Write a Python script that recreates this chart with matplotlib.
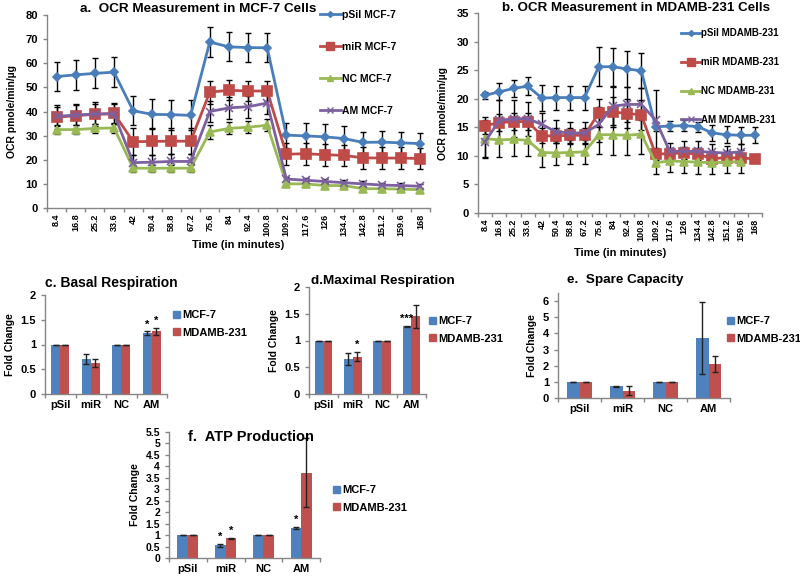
import numpy as np
import matplotlib
matplotlib.use("Agg")
import matplotlib.pyplot as plt
from matplotlib.lines import Line2D
from matplotlib.patches import Patch

plt.rcParams['font.family'] = ['Liberation Sans', 'DejaVu Sans']
plt.rcParams['font.weight'] = 'bold'

# ---------------- data ----------------
times = ["8.4", "16.8", "25.2", "33.6", "42", "50.4", "58.8", "67.2", "75.6", "84",
         "92.4", "100.8", "109.2", "117.6", "126", "134.4", "142.8", "151.2", "159.6", "168"]

a_psil = [54.5, 55.2, 55.8, 56.3, 40.3, 38.8, 38.7, 38.4, 68.8, 66.8, 66.5, 66.4,
          30.2, 29.9, 29.5, 28.8, 27.2, 27.3, 27.0, 26.7]
a_psil_err = [6.2, 6.2, 6.2, 6.2, 6.0, 6.2, 6.2, 6.2, 6.2, 6.0, 6.0, 6.0,
              5.2, 5.3, 5.3, 5.3, 4.3, 4.5, 4.5, 4.5]
a_mir = [37.6, 38.3, 38.8, 39.2, 27.5, 27.6, 27.7, 27.7, 48.0, 48.8, 48.5, 48.5,
         22.3, 22.5, 22.1, 21.8, 20.8, 20.7, 20.7, 20.5]
a_mir_err = [5.0, 5.0, 5.0, 4.5, 5.7, 5.5, 5.5, 5.5, 4.8, 4.2, 4.2, 4.2,
             4.5, 4.5, 4.5, 4.5, 4.5, 4.5, 4.5, 4.5]
a_nc = [32.5, 32.5, 33.0, 33.2, 16.5, 16.5, 16.5, 16.5, 31.5, 33.0, 33.5, 34.3,
        10.0, 10.0, 9.3, 9.3, 8.0, 8.0, 7.8, 7.6]
a_nc_err = [2.0, 2.0, 2.0, 2.0, 1.5, 1.5, 1.5, 1.5, 2.8, 2.5, 2.5, 2.5,
            1.0, 1.0, 1.0, 1.0, 0.8, 0.8, 0.8, 0.8]
a_am = [38.0, 38.5, 39.0, 39.0, 18.8, 19.0, 19.3, 19.3, 40.0, 41.5, 42.0, 43.5,
        12.0, 11.5, 11.0, 10.5, 10.0, 9.5, 9.3, 9.0]
a_am_err = [4.0, 4.0, 4.0, 4.0, 3.0, 3.0, 3.0, 3.0, 4.5, 4.5, 4.5, 4.5,
            1.0, 1.0, 1.0, 1.0, 1.0, 1.0, 1.0, 1.0]

b_psil = [20.6, 21.2, 21.8, 22.2, 20.1, 20.2, 20.2, 20.2, 25.6, 25.6, 25.2, 24.9,
          15.1, 15.2, 15.3, 15.1, 14.0, 13.7, 13.6, 13.6]
b_psil_err = [0.6, 1.5, 1.5, 1.6, 2.3, 2.1, 2.1, 2.1, 3.4, 3.3, 3.2, 3.1,
              0.8, 0.9, 0.9, 0.9, 1.4, 1.5, 1.5, 1.4]
b_mir = [15.3, 15.8, 16.0, 16.0, 13.5, 13.5, 13.6, 13.6, 17.5, 17.7, 17.4, 17.2,
         10.3, 10.4, 10.5, 10.3, 9.5, 9.7, 9.6, 9.5]
b_mir_err = [1.5, 1.5, 1.5, 1.5, 1.3, 1.3, 1.3, 1.3, 2.5, 2.6, 2.6, 2.6,
             1.0, 1.0, 1.0, 1.0, 0.6, 0.6, 0.6, 0.6]
b_nc = [13.0, 12.8, 12.9, 12.7, 10.6, 10.5, 10.6, 10.7, 13.7, 13.7, 13.6, 13.8,
        8.8, 9.1, 9.0, 8.9, 8.8, 8.9, 9.0, np.nan]
b_nc_err = [3.2, 3.0, 3.0, 2.8, 2.5, 2.1, 2.1, 2.1, 3.4, 3.5, 3.5, 3.4,
            2.0, 1.9, 2.0, 2.0, 2.0, 1.9, 2.0, np.nan]
b_am = [12.5, 16.2, 16.5, 16.5, 15.5, 14.2, 14.0, 14.0, 15.5, 18.7, 19.0, 19.0,
        16.3, 10.8, 10.8, 10.8, 10.6, 10.5, 10.7, np.nan]
b_am_err = [2.8, 3.5, 3.2, 3.0, 2.0, 2.0, 2.0, 2.0, 3.0, 3.3, 3.0, 2.8,
            5.3, 1.5, 1.8, 1.8, 1.5, 1.3, 1.3, np.nan]

groups = ["pSil", "miR", "NC", "AM"]
basal_mcf = [1.0, 0.70, 1.0, 1.23]
basal_mcf_err = [0, 0.10, 0, 0.04]
basal_mda = [1.0, 0.63, 1.0, 1.27]
basal_mda_err = [0, 0.08, 0, 0.07]

max_mcf = [1.0, 0.65, 1.0, 1.27]
max_mcf_err = [0, 0.11, 0, 0.01]
max_mda = [1.0, 0.70, 1.0, 1.45]
max_mda_err = [0, 0.09, 0, 0.22]

spare_mcf = [1.0, 0.72, 1.0, 3.72]
spare_mcf_err = [0, 0.03, 0, 2.25]
spare_mda = [1.0, 0.45, 1.0, 2.10]
spare_mda_err = [0, 0.27, 0, 0.50]

atp_mcf = [1.0, 0.55, 1.0, 1.30]
atp_mcf_err = [0, 0.07, 0, 0.05]
atp_mda = [1.0, 0.87, 1.0, 3.72]
atp_mda_err = [0, 0.02, 0, 1.50]

# ---------------- style ----------------
C_BLUE = '#4A7EBB'
C_RED = '#BE4B48'
C_GREEN = '#98B954'
C_PURPLE = '#7D60A0'
BAR_BLUE = '#4F81BD'
BAR_RED = '#C0504D'
SPINE = '#868686'

W, H = 800, 587
fig = plt.figure(figsize=(8, 5.87), dpi=100)


def axes_px(x0, y0, x1, y1):
    return fig.add_axes([x0 / W, 1 - y1 / H, (x1 - x0) / W, (y1 - y0) / H])


def style_axes(ax):
    for s in ['top', 'right']:
        ax.spines[s].set_visible(False)
    for s in ['left', 'bottom']:
        ax.spines[s].set_color(SPINE)
        ax.spines[s].set_linewidth(1.0)
    ax.tick_params(axis='y', colors=SPINE, labelcolor='black', length=3, width=1)


def cat_axis(ax, n, labels, rot, fs):
    ax.set_xlim(-0.5, n - 0.5)
    ax.set_xticks(np.arange(n))
    ax.set_xticklabels(labels, rotation=rot, fontsize=fs, fontweight='bold')
    ax.set_xticks(np.arange(n + 1) - 0.5, minor=True)
    ax.tick_params(axis='x', which='major', length=0, pad=4)
    ax.tick_params(axis='x', which='minor', length=3, width=1, colors=SPINE)


def line_panel(ax, series, ymax, ystep, legend_pos, labelspacing, lfs):
    x = np.arange(len(times))
    handles = []
    for vals, errs, col, mk, ms, lab in series:
        v = np.array(vals, dtype=float)
        e = np.array(errs, dtype=float)
        ax.errorbar(x, v, yerr=e, fmt='none', ecolor='black', elinewidth=1.0,
                    capsize=2.5, capthick=1.0, zorder=2)
        ax.plot(x, v, color=col, lw=2.0, marker=mk, ms=ms, mfc=col, mec=col,
                mew=1.2, zorder=3)
        handles.append(Line2D([0], [0], color=col, lw=2.0, marker=mk, ms=ms - 1,
                              mfc=col, mec=col, label=lab))
    ax.set_ylim(0, ymax)
    ax.set_yticks(np.arange(0, ymax + 0.01, ystep))
    ax.tick_params(axis='y', labelsize=8)
    for t in ax.get_yticklabels():
        t.set_fontweight('bold')
    cat_axis(ax, len(times), times, 90, 6.5)
    style_axes(ax)
    leg = fig.legend(handles=handles, loc='upper left',
                     bbox_to_anchor=(legend_pos[0] / W, 1 - legend_pos[1] / H),
                     frameon=False, fontsize=lfs, handlelength=2.0,
                     handletextpad=0.1, labelspacing=labelspacing,
                     borderaxespad=0, borderpad=0)
    for t in leg.get_texts():
        t.set_fontweight('bold')


# Panel a
ax_a = axes_px(47, 15, 430, 208)
line_panel(ax_a, [
    (a_psil, a_psil_err, C_BLUE, 'D', 4, 'pSil MCF-7'),
    (a_mir, a_mir_err, C_RED, 's', 7, 'miR MCF-7'),
    (a_nc, a_nc_err, C_GREEN, '^', 6, 'NC MCF-7'),
    (a_am, a_am_err, C_PURPLE, 'x', 6, 'AM MCF-7'),
], 80, 10, (320, 10), 2.1, 7.5)
ax_a.set_ylabel('OCR pmole/min/µg', fontsize=7.5, fontweight='bold', labelpad=6)
ax_a.set_xlabel('Time (in minutes)', fontsize=8, fontweight='bold', labelpad=3)
fig.text(198 / W, 1 - 9 / H, 'a.  OCR Measurement in MCF-7 Cells', ha='center',
         va='center', fontsize=9.7, fontweight='bold')

# Panel b
ax_b = axes_px(478, 13, 762, 213)
line_panel(ax_b, [
    (b_psil, b_psil_err, C_BLUE, 'D', 4, 'pSil MDAMB-231'),
    (b_mir, b_mir_err, C_RED, 's', 7, 'miR MDAMB-231'),
    (b_nc, b_nc_err, C_GREEN, '^', 6, 'NC MDAMB-231'),
    (b_am, b_am_err, C_PURPLE, 'x', 6, 'AM MDAMB-231'),
], 35, 5, (681, 28), 1.95, 7.0)
ax_b.set_ylabel('OCR pmole/min/µg', fontsize=7.5, fontweight='bold', labelpad=6)
ax_b.set_xlabel('Time (in minutes)', fontsize=8, fontweight='bold', labelpad=5)
fig.text(636 / W, 1 - 8 / H, 'b. OCR Measurement in MDAMB-231 Cells', ha='center',
         va='center', fontsize=9.6, fontweight='bold')


def bar_panel(ax, mcf, mcf_err, mda, mda_err, ymax, yticks, ytlabels, width,
              stars, legend_pos, title, title_pos, tfs):
    x = np.arange(len(groups))
    ax.bar(x - width / 2, mcf, width, color=BAR_BLUE, zorder=2)
    ax.bar(x + width / 2, mda, width, color=BAR_RED, zorder=2)
    ax.errorbar(x - width / 2, mcf, yerr=mcf_err, fmt='none', ecolor='#222222',
                elinewidth=1.0, capsize=2.5, capthick=1.0, zorder=3)
    ax.errorbar(x + width / 2, mda, yerr=mda_err, fmt='none', ecolor='#222222',
                elinewidth=1.0, capsize=2.5, capthick=1.0, zorder=3)
    ax.set_ylim(0, ymax)
    ax.set_yticks(yticks)
    ax.set_yticklabels(ytlabels, fontsize=8, fontweight='bold')
    cat_axis(ax, len(groups), groups, 0, 8)
    style_axes(ax)
    ax.set_ylabel('Fold Change', fontsize=7.5, fontweight='bold', labelpad=4)
    for (gi, side, txt) in stars:
        vals = mcf if side == 0 else mda
        errs = mcf_err if side == 0 else mda_err
        xx = gi - width / 2 if side == 0 else gi + width / 2
        ax.text(xx, vals[gi] + errs[gi] + ymax * 0.015, txt, ha='center',
                va='bottom', fontsize=8, fontweight='bold')
    handles = [Patch(color=BAR_BLUE, label='MCF-7'),
               Patch(color=BAR_RED, label='MDAMB-231')]
    leg = fig.legend(handles=handles, loc='upper left',
                     bbox_to_anchor=(legend_pos[0] / W, 1 - legend_pos[1] / H),
                     frameon=False, fontsize=8, handlelength=0.6, handleheight=0.6,
                     handletextpad=0.2, labelspacing=0.7, borderaxespad=0,
                     borderpad=0)
    for t in leg.get_texts():
        t.set_fontweight('bold')
    fig.text(title_pos[0] / W, 1 - title_pos[1] / H, title, ha='left', va='center',
             fontsize=tfs, fontweight='bold')


ax_c = axes_px(45, 295, 167, 394)
bar_panel(ax_c, basal_mcf, basal_mcf_err, basal_mda, basal_mda_err, 2.0,
          [0, 0.5, 1, 1.5, 2], ['0', '0.5', '1', '1.5', '2'], 0.30,
          [(3, 0, '*'), (3, 1, '*')], (173, 310), 'c. Basal Respiration', (45, 283), 10)

ax_d = axes_px(309, 287, 426, 394)
bar_panel(ax_d, max_mcf, max_mcf_err, max_mda, max_mda_err, 2.0,
          [0, 0.5, 1, 1.5, 2], ['0', '0.5', '1', '1.5', '2'], 0.30,
          [(1, 1, '*'), (3, 0, '***')], (429, 316), 'd.Maximal Respiration', (311, 281), 9.7)

ax_e = axes_px(558, 293, 730, 398)
bar_panel(ax_e, spare_mcf, spare_mcf_err, spare_mda, spare_mda_err, 6.5,
          [0, 1, 2, 3, 4, 5, 6], ['0', '1', '2', '3', '4', '5', '6'], 0.28,
          [], (727, 316), 'e.  Spare Capacity', (567, 280), 9.7)

ax_f = axes_px(169, 432, 320, 558)
fticks = list(np.arange(0, 5.51, 0.5))
bar_panel(ax_f, atp_mcf, atp_mcf_err, atp_mda, atp_mda_err, 5.5,
          fticks, ['0', '0.5', '1', '1.5', '2', '2.5', '3', '3.5', '4', '4.5', '5', '5.5'],
          0.28, [(1, 0, '*'), (1, 1, '*'), (3, 0, '*')], (333, 485),
          'f.  ATP Production', (188, 437), 10.5)
ax_f.tick_params(axis='y', labelsize=7.5)

fig.savefig('out.png', dpi=100, facecolor='white')
